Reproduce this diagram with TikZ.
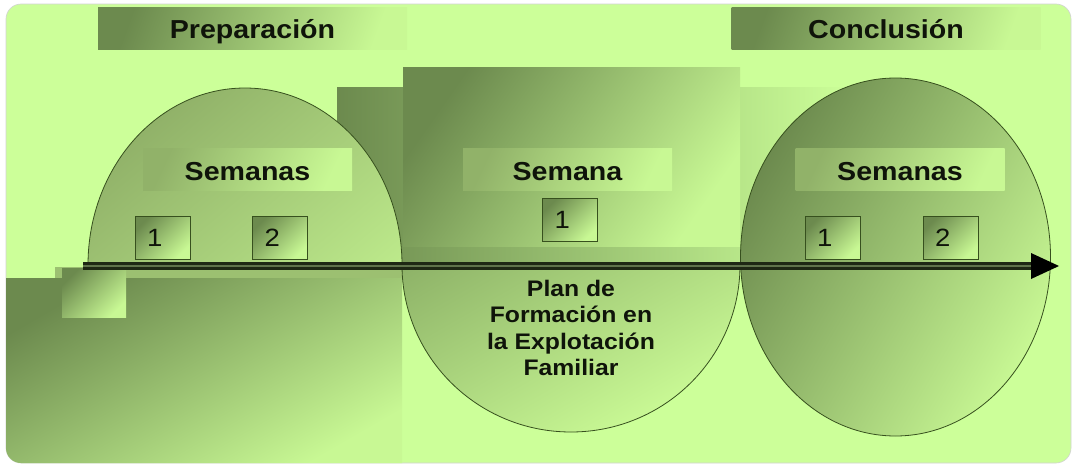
\documentclass[tikz,border=0pt]{standalone}
\usepackage{fontspec}
\setmainfont{Liberation Sans}
\newfontfamily\hd[FakeStretch=1.1]{Liberation Sans}
\usetikzlibrary{arrows.meta}
\definecolor{bgc}{RGB}{204,255,153}
\definecolor{dk}{RGB}{108,138,78}
\definecolor{md}{RGB}{145,178,105}
\definecolor{lt}{RGB}{200,248,148}
\definecolor{edge}{RGB}{55,80,30}
\definecolor{txt}{RGB}{15,20,10}
\definecolor{linedk}{RGB}{30,40,20}
\definecolor{linemd}{RGB}{95,115,75}
\tikzset{
  headbox/.style={top color=dk, bottom color=lt, shading angle=70, inner sep=0pt,
    minimum width=309pt, minimum height=42pt, text=txt,
    text height=21pt, text depth=1pt,
    font=\hd\bfseries\fontsize{26}{30}\selectfont},
  weekbox/.style={top color=md, bottom color=lt, shading angle=65, inner sep=0pt,
    minimum width=209pt, minimum height=42pt, text=txt,
    text height=23pt, text depth=1pt,
    font=\hd\bfseries\fontsize{26}{30}\selectfont},
  numbox/.style={top color=dk, bottom color=lt, shading angle=45, draw=edge, line width=0.8pt,
    inner xsep=12pt, inner ysep=0pt, text width=31pt, align=left,
    minimum width=55pt, minimum height=43pt, text=txt,
    text height=19pt, text depth=1pt,
    font=\hd\fontsize{25}{28}\selectfont},
  ovalstyle/.style={draw=edge, line width=0.8pt},
}
\begin{document}
\begin{tikzpicture}[x=1pt,y=-1pt]
\useasboundingbox (0,0) rectangle (1076,466);
\fill[white] (0,0) rectangle (1076,466);
\path[fill=bgc, draw=gray!35, line width=0.6pt, rounded corners=15pt] (6,4) rectangle (1071,463);
\begin{scope}
\clip[rounded corners=15pt] (6,4) rectangle (1071,463);
% background blocks
\shade[left color=dk, right color=bgc] (337,87) rectangle (850,263);
\shade[top color=dk, bottom color=lt, shading angle=55] (403,67) rectangle (740,246);
\shade[top color=dk, bottom color=lt, shading angle=30] (6,278) rectangle (402,466);
\fill[md!80!lt] (55,267) rectangle (402,278);
\shade[top color=dk, bottom color=lt, shading angle=45] (62,268) rectangle (126,317);
% left half oval
\begin{scope}
\clip (0,0) rectangle (1076,265.5);
\shade[ovalstyle, top color=md, bottom color=lt, shading angle=40] (245,265) ellipse [x radius=157pt, y radius=177pt];
\end{scope}
% middle half oval
\begin{scope}
\clip (0,264) rectangle (1076,466);
\shade[ovalstyle, top color=dk!85!lt, bottom color=lt, shading angle=30] (571,265) ellipse [x radius=169pt, y radius=167pt];
\end{scope}
% right oval
\shade[ovalstyle, top color=dk, bottom color=lt, shading angle=60] (895.5,257) ellipse [x radius=155pt, y radius=179pt];
\end{scope}
% headings
\node[headbox] (prep) at (252.5,28) {Preparación};
\node[headbox] (concl) at (886,28) {Conclusión};
\node[weekbox] (wl) at (247.5,169) {Semanas};
\node[weekbox] (wm) at (567.5,169) {Semana};
\node[weekbox] (wr) at (900,169) {Semanas};
% week numbers
\node[numbox] (l1) at (162.5,237.5) {1};
\node[numbox] (l2) at (280,237.5) {2};
\node[numbox] (m1) at (570,219.5) {1};
\node[numbox] (r1) at (832.5,237.5) {1};
\node[numbox] (r2) at (950.5,237.5) {2};
% time line
\coordinate (start) at (83,266);
\coordinate (tip) at (1059,266);
\coordinate (base) at (1032,266);
\draw[linedk, line width=8pt] (start) -- (base);
\draw[linemd, line width=2.4pt] (start) -- (base);
\fill[black] (tip) -- (1031,253) -- (1031,279) -- cycle;
% center text
\node[align=center, text=txt, font=\hd\bfseries\fontsize{22.5}{26.5}\selectfont] (plan) at (571,328) {Plan de\\Formación en\\la Explotación\\Familiar};
\end{tikzpicture}
\end{document}
